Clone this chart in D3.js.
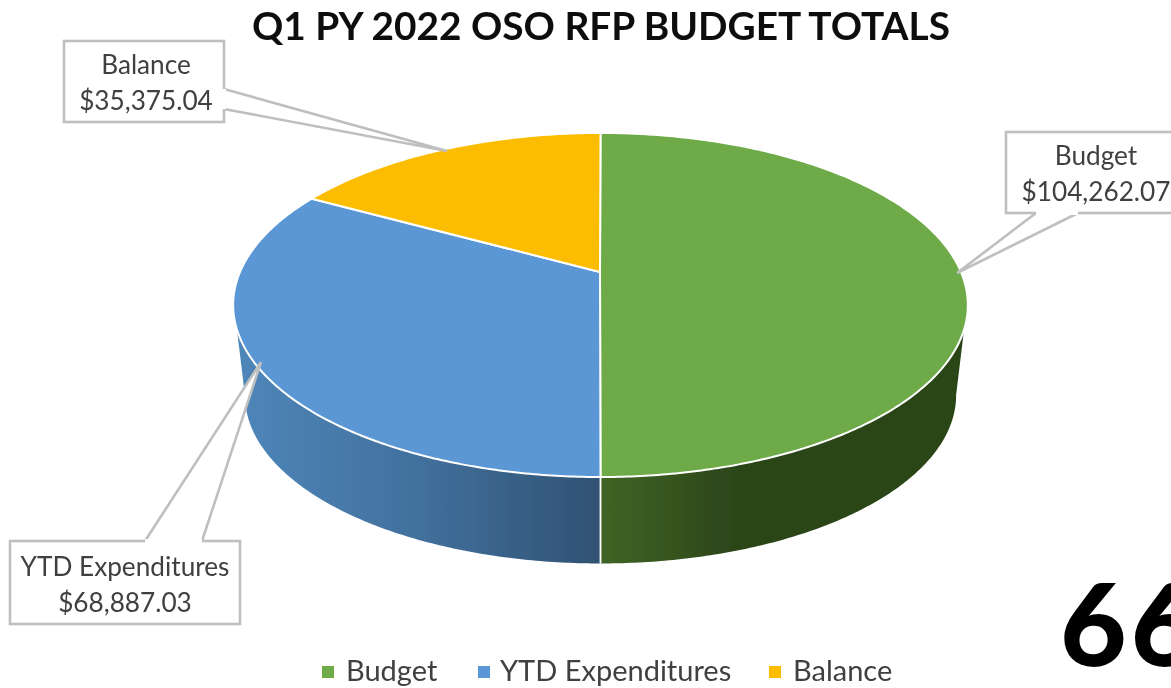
<!DOCTYPE html>
<html>
<head>
<meta charset="utf-8">
<title>Q1 PY 2022 OSO RFP Budget Totals</title>
<script src="https://cdn.jsdelivr.net/npm/d3@7"></script>
<style>
	html, body {margin:0; padding:0; background:#fff; overflow:hidden;}
	text {font-family:Lato, "Open Sans", sans-serif;}
</style>
</head>
<body>
<svg id="chart" width="1171" height="688"></svg>
<script>
const categories = ["Budget", "YTD Expenditures", "Balance"];
const budgetValues = [104262.07, 68887.03, 35375.04];
const sliceColors = ["#6eaa47", "#5b97d5", "#fcbd00"];
const titleText = "Q1 PY 2022 OSO RFP BUDGET TOTALS";
const cornerText = "66";

const svg = d3.select("#chart");
const defs = svg.append("defs");
defs.append("filter").attr("id", "soft")
	.append("feGaussianBlur").attr("stdDeviation", 0.6);

// The pie is tilted, so the unit circle goes through a small perspective
const tilt = 0.1919;
function projector(cx, cy, rx, ry){
	return function(theta){
		let u = Math.sin(theta), v = Math.cos(theta), w = 1 + tilt*v;
		return [cx + rx*u/w, cy - ry*v/w];
	};
}
const topFace = projector(600.5, 272, 360.5, 165.7);
const bottomFace = projector(600.5, 363, 349, 162);

function arcPoints(face, a0, a1){
	let n = Math.max(2, Math.ceil(Math.abs(a1-a0)/0.01));
	return d3.range(n+1).map(i => face(a0 + (a1-a0)*i/n));
}

const slices = d3.pie().sort(null).value(d => d)(budgetValues);
const line = d3.line();
const rad = d => d*Math.PI/180;

// Side wall: only the front part of the budget and expenditure slices shows
function gradient(id, stops){
	let g = defs.append("linearGradient").attr("id", id)
		.attr("gradientUnits", "userSpaceOnUse")
		.attr("x1", stops[0][0]).attr("x2", stops[stops.length-1][0])
		.attr("y1", 0).attr("y2", 0);
	let span = stops[stops.length-1][0] - stops[0][0];
	stops.forEach(function(s){
		g.append("stop").attr("offset", (s[0]-stops[0][0])/span).attr("stop-color", s[1]);
	});
}
gradient("wallGreen", [[600,"#3f6525"],[735,"#2c4519"],[965,"#2c4519"]]);
gradient("wallBlue", [[237,"#4f86ba"],[420,"#41709c"],[600,"#305273"]]);

const walls = [
	{top:[rad(109), Math.PI], bottom:[Math.PI, rad(101)], fill:"url(#wallGreen)"},
	{top:[Math.PI, rad(251)], bottom:[rad(259), Math.PI], fill:"url(#wallBlue)"}
];
const pie = svg.append("g").attr("filter", "url(#soft)");
pie.append("g").selectAll("path").data(walls).join("path")
	.attr("d", d => line(arcPoints(topFace, d.top[0], d.top[1]).concat(arcPoints(bottomFace, d.bottom[0], d.bottom[1]))) + "Z")
	.attr("fill", d => d.fill);
pie.append("path")
	.attr("d", line([topFace(Math.PI), bottomFace(Math.PI)]))
	.attr("stroke", "#fff").attr("stroke-width", 1.8).attr("fill", "none");

// Top of the pie
pie.append("g").selectAll("path").data(slices).join("path")
	.attr("d", d => line([[600,272]].concat(arcPoints(topFace, d.startAngle, d.endAngle))) + "Z")
	.attr("fill", (d,i) => sliceColors[i])
	.attr("stroke", "#fff").attr("stroke-width", 2).attr("stroke-linejoin", "round");

// Callouts
const callouts = [
	{box:[64,41,160,81], base:[[224,89],[224,109]], tip:[447,151], tx:146, ty:[74,110]},
	{box:[1006,132,175,81], base:[[1036,213],[1078,213]], tip:[957,273], tx:1096, ty:[165,201]},
	{box:[10,541,230,83], base:[[145,541],[202,541]], tip:[261,362], tx:125, ty:[576,612]}
];
const labelOrder = [2, 0, 1];
const money = d3.format("$,.2f");
const soft = svg.append("g").attr("filter", "url(#soft)");

callouts.forEach(function(c, i){
	let k = labelOrder[i];
	let g = soft.append("g");
	g.append("path")
		.attr("d", line([c.base[0], c.tip, c.base[1]]))
		.attr("fill", "#fff").attr("stroke", "#bfbfbf").attr("stroke-width", 2.6);
	g.append("rect")
		.attr("x", c.box[0]).attr("y", c.box[1])
		.attr("width", c.box[2]).attr("height", c.box[3])
		.attr("fill", "#fff").attr("stroke", "#bfbfbf").attr("stroke-width", 2.6);
	// hide the rect edge where the pointer joins the box
	g.append("path")
		.attr("d", line(c.base))
		.attr("stroke", "#fff").attr("stroke-width", 4);
	g.selectAll("text").data([categories[k], money(budgetValues[k])]).join("text")
		.attr("x", c.tx)
		.attr("y", (d,j) => c.ty[j])
		.attr("text-anchor", "middle")
		.attr("font-size", 26.2)
		.attr("fill", "#404040")
		.text(d => d);
});

// Legend
const legendSquareX = [322, 478, 769];
const legendTextX = [346, 500, 793];
const legend = soft.append("g");
legend.selectAll("rect").data(categories).join("rect")
	.attr("x", (d,i) => legendSquareX[i]).attr("y", 666)
	.attr("width", 12).attr("height", 12)
	.attr("fill", (d,i) => sliceColors[i]);
legend.selectAll("text").data(categories).join("text")
	.attr("x", (d,i) => legendTextX[i]).attr("y", 681)
	.attr("font-size", 29)
	.attr("fill", "#404040")
	.text(d => d);

// Title
soft.append("text")
	.attr("x", 601).attr("y", 40)
	.attr("text-anchor", "middle")
	.attr("font-size", 38.8)
	.attr("font-weight", 700)
	.attr("fill", "#111")
	.text(titleText);

svg.append("text")
	.attr("x", 1060).attr("y", 666)
	.attr("font-size", 115)
	.attr("font-weight", 900)
	.attr("letter-spacing", 4)
	.attr("fill", "#000")
	.text(cornerText);
</script>
</body>
</html>
